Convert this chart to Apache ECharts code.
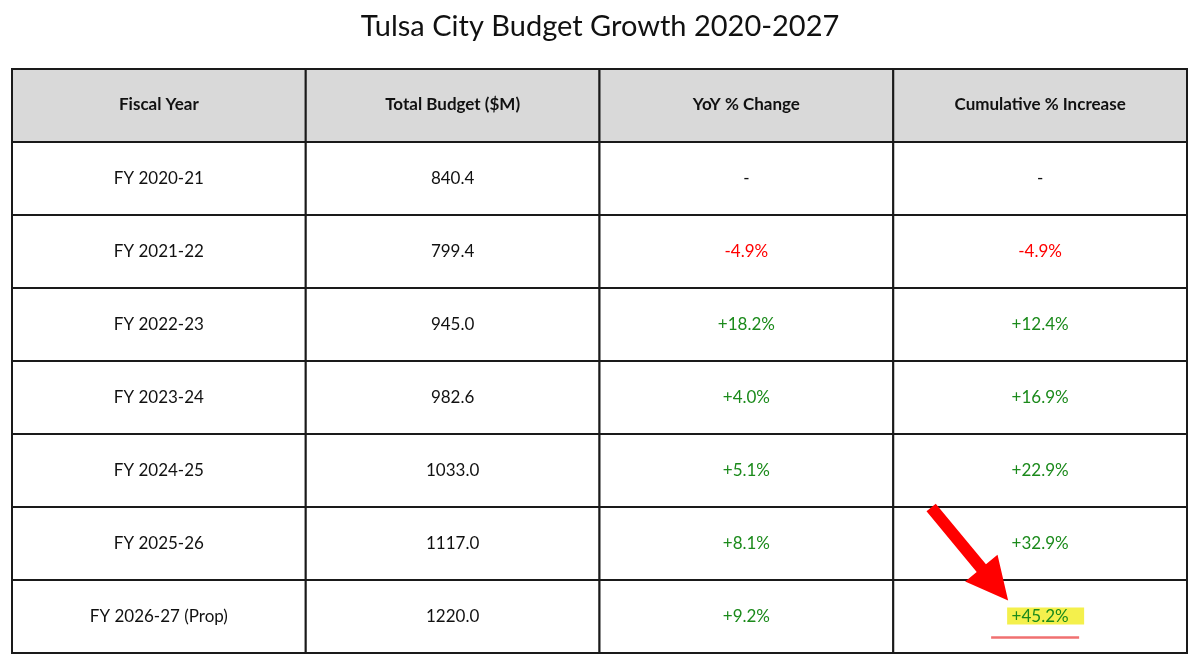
<!DOCTYPE html>
<html>
<head>
<meta charset="utf-8">
<script src="https://cdn.jsdelivr.net/npm/echarts@6/dist/echarts.min.js"></script>
<style>
html, body { margin: 0; padding: 0; background: #fff; }
#chart { width: 1200px; height: 666px; }
</style>
</head>
<body>
<div id="chart"></div>
<script>
var headers = ['Fiscal Year', 'Total Budget ($M)', 'YoY % Change', 'Cumulative % Increase'];
var fiscalYears = ['FY 2020-21', 'FY 2021-22', 'FY 2022-23', 'FY 2023-24', 'FY 2024-25', 'FY 2025-26', 'FY 2026-27 (Prop)'];
var totalBudget = [840.4, 799.4, 945.0, 982.6, 1033.0, 1117.0, 1220.0];
var yoyChange = [null, -4.9, 18.2, 4.0, 5.1, 8.1, 9.2];
var cumulativeIncrease = [null, -4.9, 12.4, 16.9, 22.9, 32.9, 45.2];
var highlightRow = 6; // last cumulative value gets the arrow + marker

function pct(v) {
    if (v === null) return '-';
    return (v > 0 ? '+' : '') + v.toFixed(1) + '%';
}
function pctColor(v) {
    if (v === null) return '#111';
    return v < 0 ? '#ff0000' : '#1b8a1b';
}

// build the cell list from the arrays above
var cells = [];
headers.forEach(function (h, i) {
    cells.push({ value: [i, 0], text: h, fill: '#d9d9d9', color: '#111', bold: true });
});
fiscalYears.forEach(function (fy, r) {
    var row = r + 1;
    cells.push({ value: [0, row], text: fy, fill: '#fff', color: '#111' });
    cells.push({ value: [1, row], text: totalBudget[r].toFixed(1), fill: '#fff', color: '#111' });
    cells.push({ value: [2, row], text: pct(yoyChange[r]), fill: '#fff', color: pctColor(yoyChange[r]) });
    cells.push({ value: [3, row], text: pct(cumulativeIncrease[r]), fill: '#fff', color: pctColor(cumulativeIncrease[r]), mark: r === highlightRow });
});

function arrowPoints(tail, tip, shaftHalf, headLen, headHalf) {
    var dx = tip[0] - tail[0], dy = tip[1] - tail[1];
    var len = Math.sqrt(dx * dx + dy * dy);
    var ux = dx / len, uy = dy / len;
    var nx = -uy, ny = ux;
    var bx = tip[0] - ux * headLen, by = tip[1] - uy * headLen;
    return [
        [tail[0] + nx * shaftHalf, tail[1] + ny * shaftHalf],
        [bx + nx * shaftHalf, by + ny * shaftHalf],
        [bx + nx * headHalf, by + ny * headHalf],
        tip,
        [bx - nx * headHalf, by - ny * headHalf],
        [bx - nx * shaftHalf, by - ny * shaftHalf],
        [tail[0] - nx * shaftHalf, tail[1] - ny * shaftHalf]
    ];
}

var myChart = echarts.init(document.getElementById('chart'));

myChart.setOption({
    animation: false,
    title: {
        text: 'Tulsa City Budget Growth 2020-2027',
        left: 'center',
        top: 7,
        textStyle: {
            fontFamily: 'Lato',
            fontSize: 29,
            fontWeight: 'normal',
            color: '#111'
        }
    },
    grid: { left: 12, right: 13, top: 69, bottom: 13 },
    xAxis: {
        type: 'category',
        data: headers,
        show: false
    },
    yAxis: {
        type: 'category',
        data: ['header'].concat(fiscalYears),
        inverse: true,
        show: false
    },
    series: [{
        type: 'custom',
        clip: false,
        encode: { x: 0, y: 1 },
        data: cells.map(function (c) { return c.value; }),
        renderItem: function (params, api) {
            var c = cells[params.dataIndex];
            var p = api.coord([api.value(0), api.value(1)]);
            var s = api.size([1, 1]);
            var children = [{
                type: 'rect',
                shape: { x: p[0] - s[0] / 2, y: p[1] - s[1] / 2, width: s[0], height: s[1] },
                style: { fill: c.fill, stroke: '#1a1a1a', lineWidth: 2 }
            }];
            if (c.mark) {
                children.push({
                    type: 'rect',
                    shape: { x: p[0] - 33, y: p[1] - 9, width: 77, height: 17 },
                    style: { fill: '#f4f04c' }
                });
                children.push({
                    type: 'line',
                    shape: { x1: p[0] - 49, y1: p[1] + 21, x2: p[0] + 39, y2: p[1] + 21 },
                    style: { stroke: '#f07070', lineWidth: 2.5 }
                });
                children.push({
                    type: 'polygon',
                    shape: { points: arrowPoints([p[0] - 109, p[1] - 109], [p[0] - 32, p[1] - 16], 6, 42, 21) },
                    style: { fill: '#ff0000' }
                });
            }
            children.push({
                type: 'text',
                style: {
                    x: p[0],
                    y: c.bold ? p[1] - 1 : p[1],
                    text: c.text,
                    fill: c.color,
                    fontFamily: 'Lato',
                    fontSize: 17,
                    fontWeight: c.bold ? 'bold' : 'normal',
                    align: 'center',
                    verticalAlign: 'middle'
                }
            });
            return { type: 'group', children: children };
        }
    }]
});
</script>
</body>
</html>
